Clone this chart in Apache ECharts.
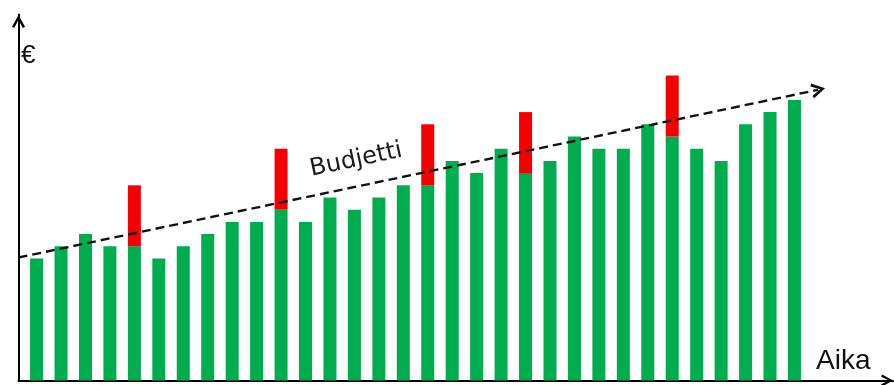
<!DOCTYPE html>
<html>
<head>
<meta charset="utf-8">
<script src="https://cdn.jsdelivr.net/npm/echarts@6/dist/echarts.min.js"></script>
<style>
html,body{margin:0;padding:0;background:#fff;}
#chart{width:894px;height:385px;}
</style>
</head>
<body>
<div id="chart"></div>
<script>
// Time periods (category indices along "Aika")
var periods = [0,1,2,3,4,5,6,7,8,9,10,11,12,13,14,15,16,17,18,19,20,21,22,23,24,25,26,27,28,29,30,31];
// Spending within budget (green)
var spending = [10,11,12,11,11,10,11,12,13,13,14,13,15,14,15,16,16,18,17,19,17,18,20,19,19,21,20,19,18,21,22,23];
// Overspending on top (red)
var overspend = [0,0,0,0,5,0,0,0,0,0,5,0,0,0,0,0,5,0,0,0,5,0,0,0,0,0,5,0,0,0,0,0];
// Budget trend line endpoints [period, €]
var budgetStart = [-0.74, 10.08];
var budgetEnd = [31.97, 23.83];
// Texts
var yLabel = '€';
var xLabel = 'Aika';
var budgetLabel = 'Budjetti';

var chevronUp = 'path://M0,12.6 L7,0 L14,12.6 L11.6,14 L7,5 L2.4,14 Z';

var chart = echarts.init(document.getElementById('chart'), null, {renderer: 'canvas'});
var option = {
  animation: false,
  backgroundColor: '#ffffff',
  grid: {left: 18.5, right: 1, top: 14.5, bottom: 4.5, containLabel: false},
  xAxis: {
    type: 'value', min: -0.74, max: 35.03,
    axisLine: {show: true, onZero: true, lineStyle: {color: '#000', width: 2},
      symbol: ['none', chevronUp], symbolSize: [16, 12], symbolOffset: [0, -6]},
    axisTick: {show: false}, axisLabel: {show: false}, splitLine: {show: false}
  },
  yAxis: {
    type: 'value', min: 0, max: 30,
    axisLine: {show: true, onZero: false, lineStyle: {color: '#000', width: 2},
      symbol: ['none', chevronUp], symbolSize: [13, 14], symbolOffset: [0, -7]},
    axisTick: {show: false}, axisLabel: {show: false}, splitLine: {show: false}
  },
  series: [
    {
      name: 'Kulut', type: 'bar', stack: 'total', barWidth: 13,
      itemStyle: {color: '#00AC50'},
      encode: {x: 1, y: 0},
      data: periods.map(function (p, i) { return [spending[i], p]; }),
      markLine: {
        silent: true, animation: false,
        symbol: ['none', chevronUp], symbolSize: [15, 14],
        label: {show: false},
        lineStyle: {color: '#111', width: 2.4, type: [9, 5]},
        data: [[{coord: budgetStart}, {coord: budgetEnd}]]
      }
    },
    {
      name: 'Ylitys', type: 'bar', stack: 'total', barWidth: 13,
      itemStyle: {color: '#F40000'},
      encode: {x: 1, y: 0},
      data: periods.map(function (p, i) { return [overspend[i], p]; })
    }
  ],
  graphic: [
    {type: 'text', x: 21, y: 56, style: {text: yLabel, font: '26px "Liberation Sans", Arial, sans-serif', fill: '#111', align: 'left', verticalAlign: 'middle'}},
    {type: 'text', x: 816, y: 361, style: {text: xLabel, font: '28px "Liberation Sans", Arial, sans-serif', fill: '#111', align: 'left', verticalAlign: 'middle'}},
    {type: 'text', x: 356, y: 160, rotation: 0.2084, style: {text: budgetLabel, font: '24px "DejaVu Sans", sans-serif', fill: '#1a1a1a', align: 'center', verticalAlign: 'middle'}}
  ]
};
chart.setOption(option);
</script>
</body>
</html>
